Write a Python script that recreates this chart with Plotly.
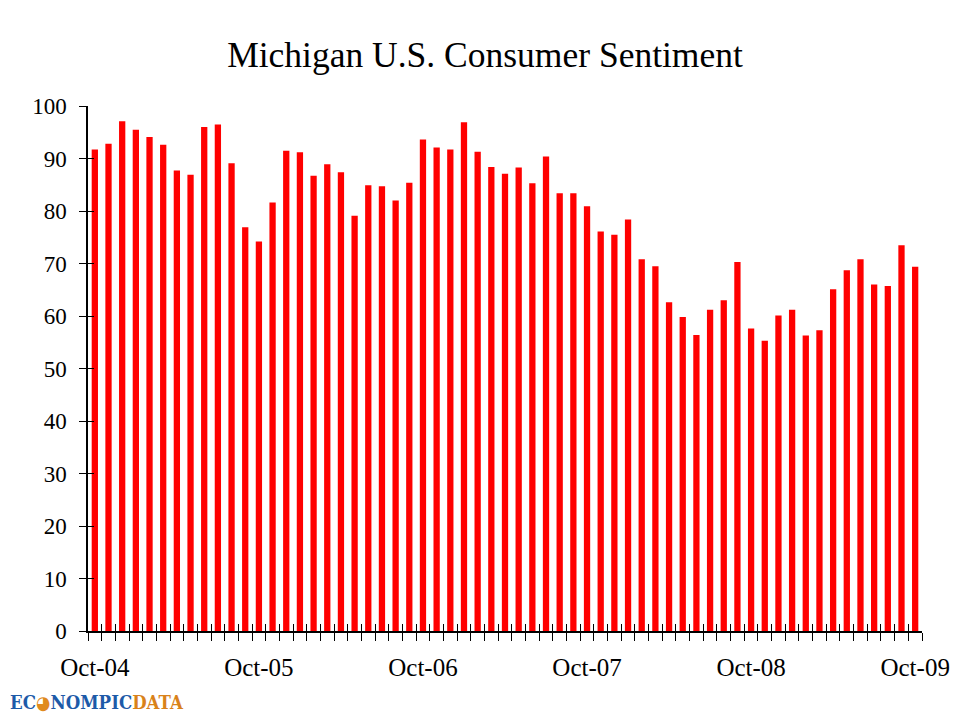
import plotly.graph_objects as go

months = ["Oct-04", "Nov-04", "Dec-04",
          "Jan-05", "Feb-05", "Mar-05", "Apr-05", "May-05", "Jun-05", "Jul-05", "Aug-05", "Sep-05", "Oct-05", "Nov-05", "Dec-05",
          "Jan-06", "Feb-06", "Mar-06", "Apr-06", "May-06", "Jun-06", "Jul-06", "Aug-06", "Sep-06", "Oct-06", "Nov-06", "Dec-06",
          "Jan-07", "Feb-07", "Mar-07", "Apr-07", "May-07", "Jun-07", "Jul-07", "Aug-07", "Sep-07", "Oct-07", "Nov-07", "Dec-07",
          "Jan-08", "Feb-08", "Mar-08", "Apr-08", "May-08", "Jun-08", "Jul-08", "Aug-08", "Sep-08", "Oct-08", "Nov-08", "Dec-08",
          "Jan-09", "Feb-09", "Mar-09", "Apr-09", "May-09", "Jun-09", "Jul-09", "Aug-09", "Sep-09", "Oct-09"]

sentiment = [91.7, 92.8, 97.1,
             95.5, 94.1, 92.6, 87.7, 86.9, 96.0, 96.5, 89.1, 76.9, 74.2, 81.6, 91.5,
             91.2, 86.7, 88.9, 87.4, 79.1, 84.9, 84.7, 82.0, 85.4, 93.6, 92.1, 91.7,
             96.9, 91.3, 88.4, 87.1, 88.3, 85.3, 90.4, 83.4, 83.4, 80.9, 76.1, 75.5,
             78.4, 70.8, 69.5, 62.6, 59.8, 56.4, 61.2, 63.0, 70.3, 57.6, 55.3, 60.1,
             61.2, 56.3, 57.3, 65.1, 68.7, 70.8, 66.0, 65.7, 73.5, 69.4]

tick_labels = ["Oct-04", "Oct-05", "Oct-06", "Oct-07", "Oct-08", "Oct-09"]
y_ticks = [0, 10, 20, 30, 40, 50, 60, 70, 80, 90, 100]

x_pos = list(range(len(months)))
tick_pos = [months.index(t) for t in tick_labels]

FONT = "Liberation Serif"
# the page body has an 8px margin, so the figure is drawn 8px in from the window edge
W, H = 952, 712
L, R, T, B = 80, 38, 98, 89
PW, PH = W - L - R, H - T - B

fig = go.Figure()
fig.add_trace(go.Bar(x=x_pos, y=sentiment, marker=dict(color="#FF0000", line=dict(width=0)),
                     width=0.46, hovertext=months, name="Sentiment"))
# empty trace carrying the overlay axes (inside tick marks, so ticks cross the axis lines)
fig.add_trace(go.Scatter(x=[], y=[], xaxis="x2", yaxis="y2", showlegend=False))

n = len(months)
fig.update_layout(
    width=W, height=H,
    paper_bgcolor="white", plot_bgcolor="white",
    margin=dict(l=L, r=R, t=T, b=B),
    showlegend=False,
    title=dict(text="Michigan U.S. Consumer Sentiment", x=477 / W, xanchor="center",
               y=1 - 47 / H, yanchor="middle", yref="container",
               font=dict(family=FONT, size=35.5, color="black")),
    xaxis=dict(range=[-0.5, n - 0.5], showgrid=False, zeroline=False, automargin=False,
               showline=True, linecolor="black", linewidth=1.5,
               tickmode="array", tickvals=tick_pos, ticktext=tick_labels,
               ticks="", ticklabelstandoff=13,
               tickfont=dict(family=FONT, size=25, color="black"),
               minor=dict(tick0=-0.5, dtick=1, ticks="outside", ticklen=8,
                          tickwidth=1.3, tickcolor="black", showgrid=False)),
    xaxis2=dict(range=[-0.5, n - 0.5], overlaying="x", anchor="y", side="bottom",
                showgrid=False, zeroline=False, showline=False, automargin=False,
                tickmode="linear", tick0=-0.5, dtick=1, ticks="inside", ticklen=7,
                tickwidth=1.3, tickcolor="black", showticklabels=False),
    yaxis=dict(range=[0, 100], tickmode="array", tickvals=y_ticks,
               showgrid=False, zeroline=False, automargin=False,
               showline=True, linecolor="black", linewidth=1.5,
               ticks="outside", ticklen=7, tickwidth=1.3, tickcolor="black",
               ticklabelstandoff=8,
               tickfont=dict(family=FONT, size=23, color="black")),
    yaxis2=dict(range=[0, 100], overlaying="y", anchor="x", side="left",
                showgrid=False, zeroline=False, showline=False, automargin=False,
                tickmode="array", tickvals=y_ticks, ticks="inside", ticklen=6,
                tickwidth=1.3, tickcolor="black", showticklabels=False),
)

fig.add_annotation(
    text="<b><span style='color:#1d5aa8'>EC</span><span style='color:#e08a1e'>◕</span>"
         "<span style='color:#1d5aa8'>NOMPIC</span><span style='color:#d9821a'>DATA</span></b>",
    xref="paper", yref="paper", x=-L / PW, y=(H - B - 694) / PH,
    xanchor="left", yanchor="middle", showarrow=False,
    font=dict(family="DejaVu Serif Condensed", size=18.5))

fig.write_html("out.html")
